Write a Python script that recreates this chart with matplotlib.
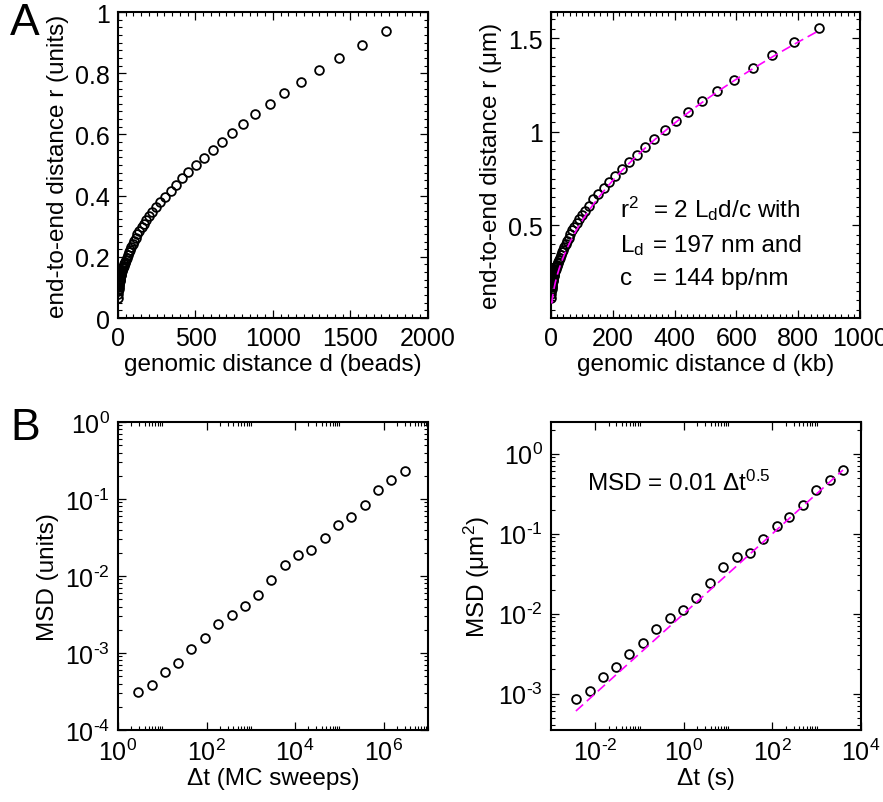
import matplotlib
matplotlib.use("Agg")
import matplotlib.pyplot as plt
import numpy as np
from matplotlib.ticker import FixedLocator, MultipleLocator, NullFormatter, FixedFormatter

plt.rcParams['font.family'] = ['Liberation Sans', 'DejaVu Sans']
plt.rcParams['mathtext.fontset'] = 'custom'
plt.rcParams['mathtext.rm'] = 'Liberation Sans'
plt.rcParams['mathtext.it'] = 'Liberation Sans'
plt.rcParams['mathtext.default'] = 'regular'
plt.rcParams['lines.scale_dashes'] = False

# ---- panel A, left: end-to-end distance in simulation units
d_beads = [1, 2, 3, 4, 5, 6, 7, 8, 9, 10, 11, 12, 14, 15, 17, 18, 20, 22, 25, 27,
           30, 33, 36, 40, 44, 48, 53, 58, 64, 71, 78, 86, 94, 104, 114, 125, 138,
           152, 167, 183, 202, 222, 244, 272, 304, 340, 373, 412, 455, 502, 556,
           610, 670, 733, 804, 886, 981, 1073, 1181, 1300, 1425, 1575, 1731]
r_units = [0.067, 0.080, 0.089, 0.096, 0.102, 0.107, 0.111, 0.115, 0.119, 0.122,
           0.125, 0.128, 0.133, 0.135, 0.140, 0.142, 0.146, 0.150, 0.155, 0.158,
           0.162, 0.166, 0.170, 0.175, 0.179, 0.183, 0.190, 0.197, 0.205, 0.215,
           0.223, 0.233, 0.242, 0.252, 0.262, 0.273, 0.285, 0.296, 0.308, 0.321,
           0.334, 0.348, 0.362, 0.378, 0.396, 0.415, 0.436, 0.456, 0.478, 0.499,
           0.523, 0.550, 0.576, 0.605, 0.635, 0.666, 0.700, 0.734, 0.771, 0.809,
           0.850, 0.893, 0.938]

# ---- panel A, right: same data in kb and um
d_kb = [0.5, 1, 1.5, 2, 2.5, 3, 3.5, 4, 4.5, 5, 5.5, 6, 7, 7.5, 8.5, 9, 10, 11,
        12.5, 13.5, 15, 16.5, 18, 20, 22, 24, 26.5, 29, 32, 35.5, 39, 43, 47, 52,
        57, 62.5, 69, 76, 83.5, 91.5, 101, 111, 122, 137, 152, 170, 188, 206, 229,
        252, 278, 305, 335, 368, 404, 444, 490, 537, 591, 653, 716, 788, 867]
r_um = [0.111, 0.133, 0.148, 0.159, 0.169, 0.178, 0.184, 0.191, 0.198, 0.203,
        0.208, 0.212, 0.221, 0.224, 0.232, 0.236, 0.242, 0.249, 0.257, 0.262,
        0.269, 0.276, 0.282, 0.291, 0.297, 0.304, 0.315, 0.327, 0.340, 0.357,
        0.370, 0.387, 0.402, 0.418, 0.435, 0.453, 0.473, 0.491, 0.511, 0.533,
        0.554, 0.578, 0.601, 0.640, 0.668, 0.699, 0.730, 0.764, 0.800, 0.837,
        0.876, 0.917, 0.961, 1.011, 1.057, 1.106, 1.163, 1.220, 1.278, 1.342,
        1.411, 1.479, 1.553]
L_d = 197.0   # nm
c_bp = 144.0  # bp/nm

# ---- panel B, left: MSD in MC sweeps
dt_mc = [2.89, 5.79, 11.4, 22.8, 45.7, 91.6, 184, 368, 738, 1453, 2911, 5833,
         11690, 23400, 46950, 94100, 185000, 371000, 744000, 1.49e6, 2.99e6]
msd_units = [3.09e-4, 3.88e-4, 5.73e-4, 7.50e-4, 1.13e-3, 1.56e-3, 2.37e-3,
             3.13e-3, 4.05e-3, 5.69e-3, 8.73e-3, 0.0137, 0.0189, 0.0215, 0.0311,
             0.0454, 0.0582, 0.0842, 0.1295, 0.1745, 0.233]

# ---- panel B, right: MSD in seconds
dt_s = [3.65e-3, 7.6e-3, 0.0147, 0.0299, 0.059, 0.1205, 0.2375, 0.477, 0.955,
        1.92, 3.85, 7.71, 15.5, 31.0, 60.2, 125, 242, 486, 975, 1954, 3920]
msd_um2 = [8.5e-4, 1.07e-3, 1.61e-3, 2.13e-3, 3.12e-3, 4.27e-3, 6.5e-3, 8.75e-3,
           0.0112, 0.01567, 0.0241, 0.0378, 0.0513, 0.058, 0.0850, 0.1245, 0.163,
           0.2254, 0.350, 0.475, 0.621]
msd_pref = 0.01
msd_exp = 0.5

TICK_FS = 18
LAB_FS = 17.5
mk = dict(ls='none', marker='o', mfc='none', mec='black', ms=6.3, mew=1.3)
fit_kw = dict(color='magenta', lw=1.2, dashes=(7, 3.6), zorder=5)

fig = plt.figure(figsize=(8.83, 8.03), dpi=100)
ax1 = fig.add_axes([0.1336, 0.6027, 0.3511, 0.3811])
ax2 = fig.add_axes([0.6240, 0.6027, 0.3499, 0.3811])
ax3 = fig.add_axes([0.1336, 0.0897, 0.3511, 0.3836])
ax4 = fig.add_axes([0.6240, 0.0897, 0.3511, 0.3836])

for ax in (ax1, ax2, ax3, ax4):
    for s in ax.spines.values():
        s.set_linewidth(1.5)
    ax.tick_params(which='both', direction='in', top=True, right=True,
                   labelsize=TICK_FS, pad=6)
    ax.tick_params(which='major', length=5.5, width=0.9)
    ax.tick_params(which='minor', length=3, width=0.8)


def pow_labels(exps):
    # xmgrace style: plain hyphen in the exponent
    return ['10$^{%s}$' % (('\u2010' + str(-e)) if e < 0 else str(e)) for e in exps]


def log_minor(lo, hi, step):
    return [k * 10.0 ** e for e in range(lo, hi, step) for k in range(2, 11)]


# A left
ax1.plot(d_beads, r_units, **mk)
ax1.set_xlim(0, 2000)
ax1.set_ylim(0, 1)
ax1.set_xticks([0, 500, 1000, 1500, 2000])
ax1.set_yticks([0, 0.2, 0.4, 0.6, 0.8, 1.0], labels=['0', '0.2', '0.4', '0.6', '0.8', '1'])
ax1.xaxis.set_minor_locator(MultipleLocator(50))
ax1.yaxis.set_minor_locator(MultipleLocator(0.025))
ax1.set_xlabel('genomic distance d (beads)', fontsize=LAB_FS, labelpad=2)
ax1.set_ylabel('end-to-end distance r (units)', fontsize=LAB_FS, labelpad=4)

# A right
ax2.plot(d_kb, r_um, **mk)
d_fit = np.linspace(2.5, 870, 300)
ax2.plot(d_fit, np.sqrt(2 * L_d * d_fit * 1000 / c_bp) / 1000, **fit_kw)
ax2.set_xlim(0, 1000)
ax2.set_ylim(0.005, 1.64)
ax2.set_xticks([0, 200, 400, 600, 800, 1000])
ax2.set_yticks([0.5, 1.0, 1.5], labels=['0.5', '1', '1.5'])
ax2.xaxis.set_minor_locator(MultipleLocator(20))
ax2.yaxis.set_minor_locator(MultipleLocator(0.05))
ax2.set_xlabel('genomic distance d (kb)', fontsize=LAB_FS, labelpad=2)
ax2.set_ylabel('end-to-end distance r (\u03bcm)', fontsize=LAB_FS, labelpad=4)
tx, tx2 = 0.223, 0.331
for y, left, right in [(0.332, 'r$^{2}$', '= 2 L$_{d}$d/c with'),
                       (0.218, 'L$_{d}$', '= 197 nm and'),
                       (0.111, 'c', '= 144 bp/nm')]:
    ax2.text(tx, y, left, transform=ax2.transAxes, fontsize=LAB_FS, va='baseline')
    ax2.text(tx2, y, right, transform=ax2.transAxes, fontsize=LAB_FS, va='baseline')

# B left
ax3.plot(dt_mc, msd_units, **mk)
ax3.set_xscale('log')
ax3.set_yscale('log')
ax3.set_xlim(1, 1e7)
ax3.set_ylim(1e-4, 1)
ax3.xaxis.set_major_locator(FixedLocator([1, 1e2, 1e4, 1e6]))
ax3.xaxis.set_major_formatter(FixedFormatter(pow_labels([0, 2, 4, 6])))
ax3.xaxis.set_minor_locator(FixedLocator(log_minor(0, 7, 2)))
ax3.xaxis.set_minor_formatter(NullFormatter())
ax3.yaxis.set_major_locator(FixedLocator([1e-4, 1e-3, 1e-2, 1e-1, 1]))
ax3.yaxis.set_major_formatter(FixedFormatter(pow_labels([-4, -3, -2, -1, 0])))
ax3.yaxis.set_minor_locator(FixedLocator([k * 10.0 ** e for e in range(-4, 0) for k in range(2, 10)]))
ax3.yaxis.set_minor_formatter(NullFormatter())
ax3.set_xlabel('\u0394t (MC sweeps)', fontsize=LAB_FS, labelpad=2)
ax3.set_ylabel('MSD (units)', fontsize=LAB_FS, labelpad=4)

# B right
ax4.plot(dt_s, msd_um2, **mk)
t_fit = np.logspace(np.log10(dt_s[0]), np.log10(dt_s[-1]), 200)
ax4.plot(t_fit, msd_pref * t_fit ** msd_exp, **fit_kw)
ax4.set_xscale('log')
ax4.set_yscale('log')
ax4.set_xlim(1e-3, 1e4)
ax4.set_ylim(3.5e-4, 2.5)
ax4.xaxis.set_major_locator(FixedLocator([1e-2, 1, 1e2, 1e4]))
ax4.xaxis.set_major_formatter(FixedFormatter(pow_labels([-2, 0, 2, 4])))
ax4.xaxis.set_minor_locator(FixedLocator(log_minor(-2, 4, 2)))
ax4.xaxis.set_minor_formatter(NullFormatter())
ax4.yaxis.set_major_locator(FixedLocator([1e-3, 1e-2, 1e-1, 1]))
ax4.yaxis.set_major_formatter(FixedFormatter(pow_labels([-3, -2, -1, 0])))
ax4.yaxis.set_minor_locator(FixedLocator([k * 10.0 ** e for e in range(-4, 1) for k in range(2, 10)]))
ax4.yaxis.set_minor_formatter(NullFormatter())
ax4.set_xlabel('\u0394t (s)', fontsize=LAB_FS, labelpad=2)
ax4.set_ylabel('MSD (\u03bcm$^{2}$)', fontsize=LAB_FS, labelpad=4)
ax4.text(0.116, 0.780, 'MSD = 0.01 \u0394t$^{0.5}$', transform=ax4.transAxes,
         fontsize=LAB_FS, va='baseline')

fig.text(0.0113, 0.9564, 'A', fontsize=32, va='baseline')
fig.text(0.0113, 0.452, 'B', fontsize=32, va='baseline')

fig.savefig('out.png', dpi=100)
